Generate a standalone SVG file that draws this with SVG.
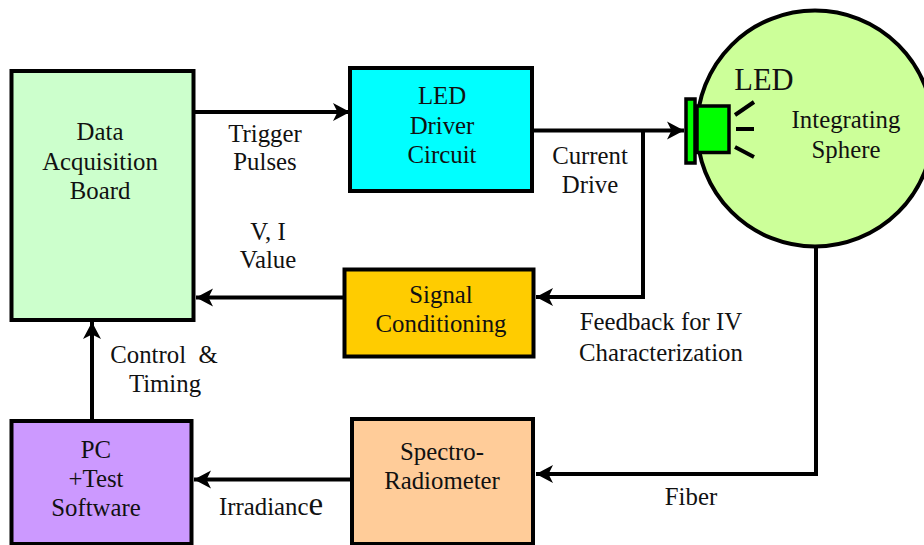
<svg xmlns="http://www.w3.org/2000/svg" width="924" height="545" viewBox="0 0 924 545">
<style>
text{font-family:"Liberation Serif","Times New Roman",serif;font-size:24.800px;fill:#111;text-anchor:middle}
.b{stroke:#000;stroke-width:4}
.c{fill:none;stroke:#000;stroke-width:4;stroke-linejoin:miter}
.h{fill:#000;stroke:none}
</style>
<defs>
<marker id="a" markerUnits="userSpaceOnUse" markerWidth="22" markerHeight="22" refX="17" refY="11" orient="auto">
<path class="h" d="M0 2L17 11L0 20L4.500 11Z"/>
</marker>
</defs>
<rect width="924" height="545" fill="#fff"/>
<g id="sphere">
<circle cx="815" cy="128.500" r="118" fill="#ccff99" stroke="#000" stroke-width="4"/>
<text x="764" y="90" style="font-size:30.500px">LED</text>
<text x="846" y="128">Integrating</text>
<text x="846" y="158">Sphere</text>
</g>
<g id="led">
<rect x="686" y="99" width="9" height="64" fill="#00ff00" stroke="#000" stroke-width="3.500"/>
<rect x="697" y="106" width="32" height="46.500" fill="#00ff00" stroke="#000" stroke-width="3.500"/>
<path d="M735 115L754 102M736 129H754M735 147L754 157" fill="none" stroke="#000" stroke-width="4"/>
</g>
<g id="daq">
<rect class="b" x="11.500" y="71" width="182" height="249" fill="#ccffcc"/>
<text x="100" y="140">Data</text><text x="100" y="170">Acquisition</text><text x="100" y="199">Board</text>
</g>
<g id="driver">
<rect class="b" x="350" y="68" width="182" height="123" fill="#00ffff"/>
<text x="442" y="104">LED</text><text x="442" y="134">Driver</text><text x="442" y="163">Circuit</text>
</g>
<g id="signal">
<rect class="b" x="344.500" y="269.500" width="189" height="87" fill="#ffcc00"/>
<text x="441" y="303">Signal</text><text x="441" y="332">Conditioning</text>
</g>
<g id="pc">
<rect class="b" x="11.500" y="421" width="180" height="123" fill="#cc99ff"/>
<text x="96" y="458">PC</text><text x="96" y="487">+Test</text><text x="96" y="516">Software</text>
</g>
<g id="spectro">
<rect class="b" x="352" y="419" width="181" height="125" fill="#ffcc99"/>
<text x="442" y="460">Spectro-</text><text x="442" y="489">Radiometer</text>
</g>
<g id="connectors">
<path class="c" d="M194 112H350" marker-end="url(#a)"/>
<path class="c" d="M532 130.500H684" marker-end="url(#a)"/>
<path class="c" d="M643 130.500V297H536" marker-end="url(#a)"/>
<path class="c" d="M343 297.500H196" marker-end="url(#a)"/>
<path class="c" d="M92 420V322" marker-end="url(#a)"/>
<path class="c" d="M351 479.500H194" marker-end="url(#a)"/>
<path class="c" d="M816 247V474H536" marker-end="url(#a)"/>
</g>
<g id="labels">
<text x="265" y="142">Trigger</text><text x="265" y="170">Pulses</text>
<text x="590" y="164">Current</text><text x="590" y="193">Drive</text>
<text x="268" y="240">V, I</text><text x="268" y="268">Value</text>
<text x="661" y="330">Feedback for IV</text><text x="661" y="361">Characterization</text>
<text x="164" y="363">Control &#160;&amp;</text><text x="165" y="392">Timing</text>
<text x="691" y="505">Fiber</text>
<text x="219" y="515" style="text-anchor:start">Irradianc<tspan style="font-size:33px">e</tspan></text>
</g>
</svg>
